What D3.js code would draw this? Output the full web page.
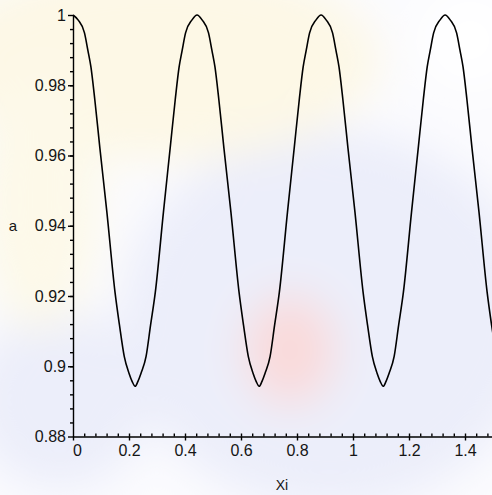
<!doctype html>
<html lang="en">
<head>
    <meta charset="utf-8">
    <title>a vs Xi</title>
    <script src="https://cdn.jsdelivr.net/npm/d3@7/dist/d3.min.js"></script>
    <style>
        body { margin: 0; background: #ffffff; }
        svg { display: block; }
        .axis path, .axis line { stroke: #000; stroke-width: 1.4px; }
        .axis text { font-family: "Liberation Sans", Arial, sans-serif; font-size: 16px; fill: #151515; }
        .lbl { font-family: "Liberation Sans", Arial, sans-serif; fill: #151515; }
    </style>
</head>
<body>
    <svg></svg>
    <script>
        var width = 492;
        var height = 495;

        // tick values and their labels
        var xTicks = [0, 0.2, 0.4, 0.6, 0.8, 1, 1.2, 1.4];
        var xTickLabels = ["0", "0.2", "0.4", "0.6", "0.8", "1", "1.2", "1.4"];
        var yTicks = [0.88, 0.9, 0.92, 0.94, 0.96, 0.98, 1];
        var yTickLabels = ["0.88", "0.9", "0.92", "0.94", "0.96", "0.98", "1"];

        // curve
        var xi = [
            0, 0.018, 0.041, 0.053, 0.064, 0.078, 0.096, 0.121, 0.150, 0.166, 0.183, 0.200, 0.211, 0.222,
            0.232, 0.243, 0.261, 0.277, 0.294, 0.323, 0.347, 0.365, 0.379, 0.390, 0.402, 0.425, 0.443,
            0.461, 0.484, 0.496, 0.507, 0.521, 0.539, 0.564, 0.593, 0.609, 0.626, 0.643, 0.654, 0.665,
            0.675, 0.686, 0.704, 0.720, 0.737, 0.766, 0.790, 0.808, 0.822, 0.833, 0.845, 0.868, 0.886,
            0.904, 0.927, 0.939, 0.950, 0.964, 0.982, 1.007, 1.036, 1.052, 1.069, 1.086, 1.097, 1.108,
            1.118, 1.129, 1.147, 1.163, 1.180, 1.209, 1.233, 1.251, 1.265, 1.276, 1.288, 1.311, 1.329,
            1.347, 1.370, 1.382, 1.393, 1.407, 1.425, 1.450, 1.479, 1.495, 1.512
        ];
        var a = [
            1.0000, 0.9986, 0.9949, 0.9900, 0.9852, 0.9758, 0.9621, 0.9439, 0.9211, 0.9117, 0.9028, 0.8980, 0.8957, 0.8943,
            0.8957, 0.8980, 0.9028, 0.9117, 0.9211, 0.9439, 0.9621, 0.9758, 0.9852, 0.9900, 0.9949, 0.9986, 1.0000,
            0.9986, 0.9949, 0.9900, 0.9852, 0.9758, 0.9621, 0.9439, 0.9211, 0.9117, 0.9028, 0.8980, 0.8957, 0.8943,
            0.8957, 0.8980, 0.9028, 0.9117, 0.9211, 0.9439, 0.9621, 0.9758, 0.9852, 0.9900, 0.9949, 0.9986, 1.0000,
            0.9986, 0.9949, 0.9900, 0.9852, 0.9758, 0.9621, 0.9439, 0.9211, 0.9117, 0.9028, 0.8980, 0.8957, 0.8943,
            0.8957, 0.8980, 0.9028, 0.9117, 0.9211, 0.9439, 0.9621, 0.9758, 0.9852, 0.9900, 0.9949, 0.9986, 1.0000,
            0.9986, 0.9949, 0.9900, 0.9852, 0.9758, 0.9621, 0.9439, 0.9211, 0.9117, 0.9028
        ];

        var dataset = xi.map(function (d, i) { return [d, a[i]]; });

        var xScale = d3.scaleLinear().domain([0, 1.5]).range([73, 493]);
        var yScale = d3.scaleLinear().domain([0.88, 1]).range([436.5, 15]);

        var svg = d3.select('svg').attr('width', width).attr('height', height);

        // faded watermark behind the plot
        var defs = svg.append('defs');
        defs.append('filter').attr('id', 'blur')
            .attr('x', '-50%').attr('y', '-50%').attr('width', '200%').attr('height', '200%')
            .append('feGaussianBlur').attr('stdDeviation', 22);

        svg.append('rect').attr('width', width).attr('height', height).attr('fill', '#fbfbfe');
        var bg = svg.append('g').attr('filter', 'url(#blur)');
        bg.append('ellipse').attr('cx', 330).attr('cy', 320).attr('rx', 210).attr('ry', 190).attr('fill', '#eceefa');
        bg.append('ellipse').attr('cx', 60).attr('cy', 400).attr('rx', 90).attr('ry', 90).attr('fill', '#eceefa');
        bg.append('ellipse').attr('cx', 160).attr('cy', 60).attr('rx', 220).attr('ry', 100).attr('fill', '#fdf8e6');
        bg.append('ellipse').attr('cx', 40).attr('cy', 200).attr('rx', 60).attr('ry', 130).attr('fill', '#fdf9e9');
        bg.append('ellipse').attr('cx', 290).attr('cy', 350).attr('rx', 45).attr('ry', 55).attr('fill', '#fadada');
        bg.append('ellipse').attr('cx', 470).attr('cy', 40).attr('rx', 50).attr('ry', 50).attr('fill', '#ffffff');

        // minor ticks
        svg.append('g')
            .attr('class', 'axis')
            .attr('transform', 'translate(73, 0)')
            .call(d3.axisLeft(yScale).tickValues(d3.range(0.884, 1.0, 0.004)).tickSize(3).tickSizeOuter(0).tickFormat(''))
            .select('.domain').remove();

        svg.append('g')
            .attr('class', 'axis')
            .attr('transform', 'translate(0, 436.5)')
            .call(d3.axisBottom(xScale).tickValues(d3.range(0.04, 1.5, 0.04)).tickSize(-3).tickSizeOuter(0).tickFormat(''))
            .select('.domain').remove();

        // main axes
        var yAxis = d3.axisLeft(yScale)
            .tickValues(yTicks)
            .tickSize(5)
            .tickSizeOuter(0)
            .tickPadding(2)
            .tickFormat(function (d, i) { return yTickLabels[i]; });

        var xAxis = d3.axisBottom(xScale)
            .tickValues(xTicks)
            .tickSize(4)
            .tickSizeOuter(0)
            .tickPadding(4)
            .tickFormat(function (d, i) { return xTickLabels[i]; });

        svg.append('g')
            .attr('class', 'axis')
            .attr('transform', 'translate(73, 0)')
            .call(yAxis);

        svg.append('g')
            .attr('class', 'axis')
            .attr('transform', 'translate(0, 436.5)')
            .call(xAxis)
            .selectAll('text')
            .attr('dx', function (d) { return d === 0 ? 4 : 0; });

        // curve
        var line = d3.line()
            .x(function (d) { return xScale(d[0]); })
            .y(function (d) { return yScale(d[1]); })
            .curve(d3.curveMonotoneX);

        svg.append('path')
            .datum(dataset)
            .attr('d', line)
            .attr('fill', 'none')
            .attr('stroke', '#000')
            .attr('stroke-width', 1.6);

        // axis titles
        svg.append('text')
            .attr('class', 'lbl')
            .attr('x', 13)
            .attr('y', 226)
            .attr('dy', '0.32em')
            .attr('text-anchor', 'middle')
            .attr('font-size', '15px')
            .text('a');

        svg.append('text')
            .attr('class', 'lbl')
            .attr('x', 282)
            .attr('y', 490)
            .attr('text-anchor', 'middle')
            .attr('font-size', '14px')
            .text('Xi');
    </script>
</body>
</html>
